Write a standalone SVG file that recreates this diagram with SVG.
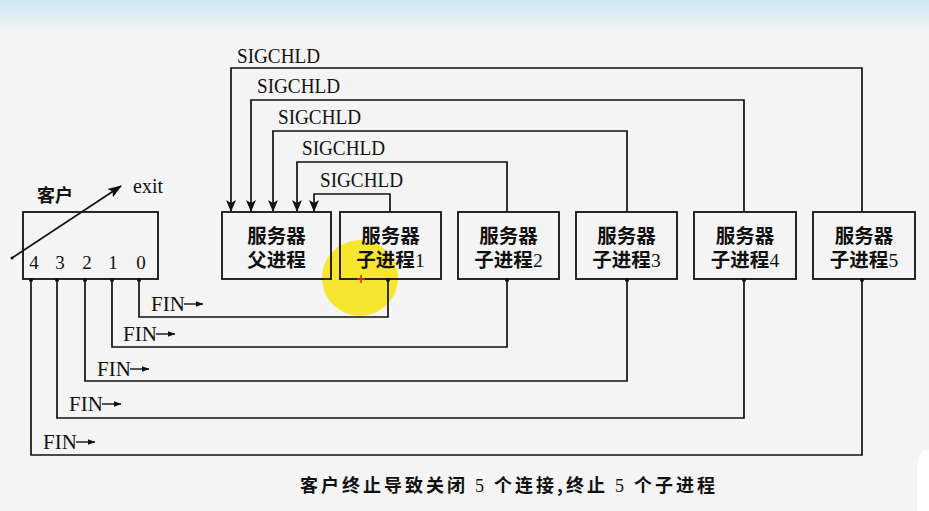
<svg xmlns="http://www.w3.org/2000/svg" width="929" height="511" viewBox="0 0 929 511">
<defs>
<linearGradient id="topband" x1="0" y1="0" x2="0" y2="1">
<stop offset="0" stop-color="#cde7f1"/>
<stop offset="1" stop-color="#f3f4f5"/>
</linearGradient>
<marker id="ah" markerUnits="userSpaceOnUse" markerWidth="12" markerHeight="10" refX="11" refY="5" orient="auto" viewBox="0 0 12 10">
<path d="M0,0 L12,5 L0,10 L3,5 Z" fill="#111"/>
</marker>
<marker id="ah2" markerUnits="userSpaceOnUse" markerWidth="14" markerHeight="10" refX="13" refY="5" orient="auto" viewBox="0 0 14 10">
<path d="M0,0 L14,5 L0,10 L3,5 Z" fill="#111"/>
</marker>
<marker id="ah3" markerUnits="userSpaceOnUse" markerWidth="8" markerHeight="6" refX="7.5" refY="3" orient="auto" viewBox="0 0 8 6">
<path d="M0,0 L8,3 L0,6 Z" fill="#111"/>
</marker>
<style>
.bx{fill:none;stroke:#111;stroke-width:1.8}
.ln{fill:none;stroke:#111;stroke-width:1.7}
.fa{fill:none;stroke:#111;stroke-width:1.4}
.cjk{font-family:"Noto Sans CJK SC","Noto Sans CJK JP",sans-serif;font-weight:bold;fill:#111}
.ser{font-family:"Liberation Serif","DejaVu Serif",serif;fill:#111}
.dig{font-family:"Liberation Serif","DejaVu Serif",serif;font-weight:normal}
.sig{font-family:"Liberation Serif","DejaVu Serif",serif;font-size:21px;fill:#111}
.fin{font-family:"Liberation Serif","DejaVu Serif",serif;font-size:21px;fill:#111}
.dot{fill:#111}
</style>
</defs>
<rect width="929" height="511" fill="#f4f4f4"/>
<rect width="929" height="32" fill="url(#topband)"/>
<path d="M929,450 L924,450 Q917,455 917,470 L917,511 L929,511 Z" fill="#ffffff"/>

<circle cx="360" cy="278" r="38" fill="#f6e41e" opacity="0.92"/>

<g id="client">
<rect class="bx" x="23" y="212" width="135" height="67"/>
<text class="cjk" x="55" y="202" font-size="18" text-anchor="middle">客户</text>
<text class="ser" x="133" y="193" font-size="20">exit</text>
<line class="ln" x1="12" y1="258" x2="121" y2="186" marker-end="url(#ah2)"/>
<circle class="dot" cx="12" cy="258" r="1.5"/>
<g class="ser" font-size="19" text-anchor="middle">
<text x="34" y="269">4</text>
<text x="60" y="269">3</text>
<text x="87" y="269">2</text>
<text x="113" y="269">1</text>
<text x="141" y="269">0</text>
</g>
</g>

<g id="parent">
<rect class="bx" x="222" y="212" width="109" height="67"/>
<text class="cjk" font-size="19.5" text-anchor="middle"><tspan x="276.5" y="243">服务器</tspan><tspan x="276.5" y="267">父进程</tspan></text>
</g>

<g id="child1">
<rect class="bx" x="340" y="212" width="101" height="67"/>
<text class="cjk" font-size="19.5" text-anchor="middle"><tspan x="390.5" y="243">服务器</tspan><tspan x="390.5" y="267">子进程<tspan class="dig">1</tspan></tspan></text>
</g>
<g id="child2">
<rect class="bx" x="458" y="212" width="101" height="67"/>
<text class="cjk" font-size="19.5" text-anchor="middle"><tspan x="508.5" y="243">服务器</tspan><tspan x="508.5" y="267">子进程<tspan class="dig">2</tspan></tspan></text>
</g>
<g id="child3">
<rect class="bx" x="576" y="212" width="101" height="67"/>
<text class="cjk" font-size="19.5" text-anchor="middle"><tspan x="626.5" y="243">服务器</tspan><tspan x="626.5" y="267">子进程<tspan class="dig">3</tspan></tspan></text>
</g>
<g id="child4">
<rect class="bx" x="694" y="212" width="102" height="67"/>
<text class="cjk" font-size="19.5" text-anchor="middle"><tspan x="745" y="243">服务器</tspan><tspan x="745" y="267">子进程<tspan class="dig">4</tspan></tspan></text>
</g>
<g id="child5">
<rect class="bx" x="813" y="212" width="102" height="67"/>
<text class="cjk" font-size="19.5" text-anchor="middle"><tspan x="864" y="243">服务器</tspan><tspan x="864" y="267">子进程<tspan class="dig">5</tspan></tspan></text>
</g>

<g id="connectors">
<path class="ln" d="M390,212 V194 H314 V211" marker-end="url(#ah)"/>
<path class="ln" d="M507,212 V162 H297 V211" marker-end="url(#ah)"/>
<path class="ln" d="M627,212 V131 H273 V211" marker-end="url(#ah)"/>
<path class="ln" d="M744,212 V100 H251 V211" marker-end="url(#ah)"/>
<path class="ln" d="M862,212 V68 H231 V211" marker-end="url(#ah)"/>
<path class="ln" d="M139,279 V317 H388 V279"/>
<path class="ln" d="M112,279 V347 H507 V279"/>
<path class="ln" d="M85,279 V381 H627 V279"/>
<path class="ln" d="M57,279 V418 H744 V279"/>
<path class="ln" d="M31,279 V455 H862 V279"/>
<g class="dot">
<circle cx="139" cy="280" r="2"/><circle cx="112" cy="280" r="2"/><circle cx="85" cy="280" r="2"/><circle cx="57" cy="280" r="2"/><circle cx="31" cy="280" r="2"/>
<circle cx="388" cy="280" r="2"/><circle cx="507" cy="280" r="2"/><circle cx="627" cy="280" r="2"/><circle cx="744" cy="280" r="2"/><circle cx="862" cy="280" r="2"/>
</g>
<text class="sig" x="237" y="63" textLength="83" lengthAdjust="spacingAndGlyphs">SIGCHLD</text>
<text class="sig" x="257" y="93" textLength="83" lengthAdjust="spacingAndGlyphs">SIGCHLD</text>
<text class="sig" x="278" y="124" textLength="83" lengthAdjust="spacingAndGlyphs">SIGCHLD</text>
<text class="sig" x="302" y="155" textLength="83" lengthAdjust="spacingAndGlyphs">SIGCHLD</text>
<text class="sig" x="320" y="187" textLength="83" lengthAdjust="spacingAndGlyphs">SIGCHLD</text>
<text class="fin" x="151" y="311">FIN</text>
<text class="fin" x="123" y="341">FIN</text>
<text class="fin" x="97" y="376">FIN</text>
<text class="fin" x="69" y="411">FIN</text>
<text class="fin" x="43" y="449">FIN</text>
<path class="fa" d="M184,304 H203" marker-end="url(#ah3)"/>
<path class="fa" d="M156,334 H175" marker-end="url(#ah3)"/>
<path class="fa" d="M130,369 H149" marker-end="url(#ah3)"/>
<path class="fa" d="M102,404 H121" marker-end="url(#ah3)"/>
<path class="fa" d="M76,442 H95" marker-end="url(#ah3)"/>
</g>

<path d="M361,275 V283 M357,279 H365" stroke="#e8231e" stroke-width="1.6"/>

<text class="cjk" x="300" y="492" font-size="18" textLength="415" lengthAdjust="spacing">客户终止导致关闭 <tspan class="dig">5</tspan> 个连接,终止 <tspan class="dig">5</tspan> 个子进程</text>
</svg>
